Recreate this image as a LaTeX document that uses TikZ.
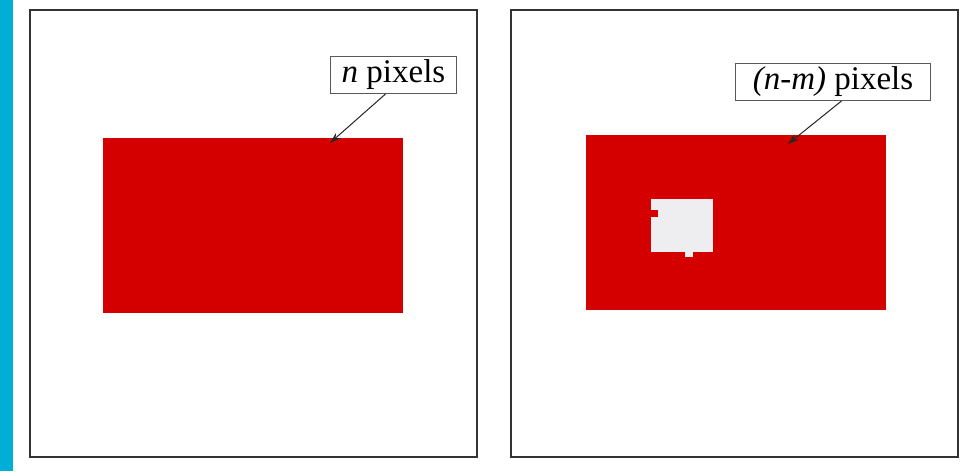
\documentclass[tikz,border=0pt]{standalone}
\usepackage{fontspec}
\setmainfont{Liberation Serif}
\usetikzlibrary{arrows.meta}
\definecolor{stripblue}{HTML}{00AED6}
\definecolor{fillred}{HTML}{D40000}
\definecolor{holegray}{HTML}{EEEEF0}
\definecolor{framegray}{HTML}{333333}
\tikzset{
  panel/.style={draw=framegray, line width=2pt, fill=white},
  region/.style={fill=fillred, draw=none},
  labelbox/.style={draw=black!65, line width=1pt, fill=white, inner sep=0pt, minimum height=37pt, font=\fontsize{33}{33}\selectfont},
  pointer/.style={draw=black!85, line width=1pt, -{Stealth[length=11pt,width=7pt]}},
}
\begin{document}
\begin{tikzpicture}[x=1pt,y=-1pt]
\useasboundingbox (0,0) rectangle (963,471);
\fill[white] (0,0) rectangle (963,471);
\fill[stripblue] (0,0) rectangle (13,471);
% panels
\draw[panel] (30,10) rectangle (477,457);
\draw[panel] (511,10) rectangle (958,457);
% left region
\fill[region] (103,138) rectangle (403,313);
\coordinate (tipL) at (330,143);
\node[labelbox, minimum width=126pt, anchor=north west] (labL) at (330,56) {\itshape n\upshape\ pixels};
\draw[pointer] ([xshift=-8pt]labL.south) -- (tipL);
% right region
\fill[region] (586,135) rectangle (886,310);
\fill[holegray] (651,199) rectangle (713,252);
\fill[fillred] (651,210) rectangle (658,217);
\fill[holegray] (685,251) rectangle (693,257);
\coordinate (tipR) at (788,144);
\node[labelbox, minimum width=195pt, anchor=north west] (labR) at (735,63) {\itshape (n-m)\upshape\ pixels};
\draw[pointer] ([xshift=8.5pt]labR.south) -- (tipR);
\end{tikzpicture}
\end{document}
